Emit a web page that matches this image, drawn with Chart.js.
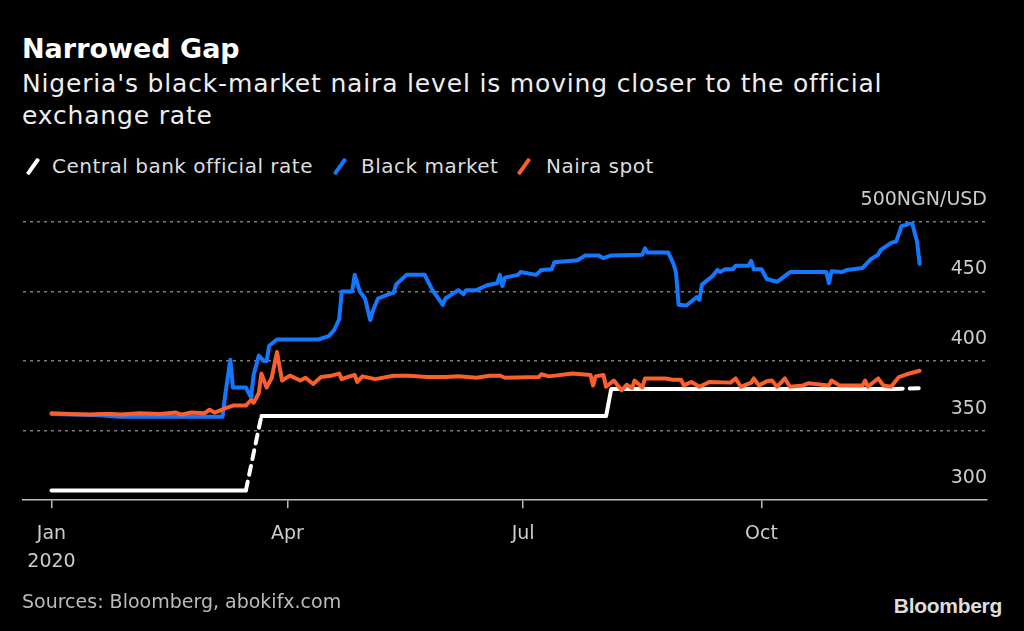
<!DOCTYPE html>
<html>
<head>
<meta charset="utf-8">
<script src="https://cdn.jsdelivr.net/npm/chart.js@4/dist/chart.umd.min.js"></script>
<style>
  html, body { margin: 0; padding: 0; background: #000; }
  body { width: 1024px; height: 631px; position: relative; overflow: hidden; font-family: "DejaVu Sans", sans-serif; }
  .txt { position: absolute; white-space: nowrap; }
  #title { left: 22px; top: 33px; font-size: 27px; line-height: 32px; font-weight: bold; color: #fff; }
  #subtitle { left: 22px; top: 68px; font-size: 25px; line-height: 32px; letter-spacing: 0.83px; color: #eee; }
  .leg { top: 154px; font-size: 20px; line-height: 24px; letter-spacing: 0.5px; color: #ddd; }
  .slash { position: absolute; top: 157px; width: 4px; height: 19px; transform: rotate(35deg); border-radius: 1px; }
  #source { left: 22px; top: 589px; font-size: 19px; line-height: 24px; color: #bbb; }
  #logo { right: 22px; top: 594px; font-family: "Liberation Sans", sans-serif; font-size: 21px; line-height: 24px; font-weight: bold; color: #ddd; letter-spacing: -0.3px; }
  #wrap { position: absolute; left: 0; top: 180px; width: 1024px; height: 414px; }
</style>
</head>
<body>
<div class="txt" id="title">Narrowed Gap</div>
<div class="txt" id="subtitle">Nigeria's black-market naira level is moving closer to the official<br>exchange rate</div>

<span class="slash" style="left:31px;background:#fff"></span>
<div class="txt leg" style="left:52px">Central bank official rate</div>
<span class="slash" style="left:338px;background:#1478ff"></span>
<div class="txt leg" style="left:361px">Black market</div>
<span class="slash" style="left:522px;background:#fa5f2c"></span>
<div class="txt leg" style="left:546px">Naira spot</div>

<div id="wrap"><canvas id="grafica"></canvas></div>

<div class="txt" id="source">Sources: Bloomberg, abokifx.com</div>
<div class="txt" id="logo">Bloomberg</div>

<script>
// days counted from Jan 1, 2020
const officialDays = [0, 75, 78, 81, 214, 216, 325, 330, 336];
const officialRates = [307, 307, null, 360.5, 360.5, 380, 380, null, 380.5];

const blackDays = [0, 19, 26, 38, 57, 66, 67, 69, 70, 75, 77, 78, 80, 82, 83, 84, 87, 103, 107, 109,
  111, 112, 116, 117, 119, 121, 123, 124, 126, 130, 132, 133, 137, 144, 147, 151, 152, 157, 159, 160,
  164, 168, 172, 173, 174, 175, 180, 181, 187, 189, 193, 194, 203, 206, 211, 213, 216, 228, 229, 230,
  238, 240, 241, 242, 245, 247, 249, 250, 251, 255, 257, 258, 260, 263, 264, 269, 270, 271, 274, 276,
  280, 285, 299, 300, 301, 305, 307, 313, 316, 319, 320, 324, 326, 328, 330, 332, 334, 335];
const blackRates = [362, 361, 360, 360, 360, 360, 375, 401, 381, 381, 374, 390, 404, 400, 400, 411, 415.5, 415.5, 418, 422,
  430, 450, 450, 462, 450, 445, 429.5, 436, 445, 448, 449, 455, 462, 462, 451, 440.5, 445, 451, 448, 451,
  451, 454.5, 456, 462, 454, 460, 462, 464, 462, 465.5, 466, 471, 472.5, 476, 476, 474, 476, 476.5, 481, 478,
  478, 470, 463.5, 440.5, 440, 443, 446, 444, 455, 461, 465.5, 464, 466, 466, 468.5, 468.5, 472, 466, 466, 459,
  457, 464, 464, 456, 464.5, 464, 465.5, 467, 473, 476.5, 480, 485, 486, 497, 498, 500, 486, 470];

const spotDays = [0, 7, 15, 19, 23, 27, 34, 42, 48, 50, 54, 59, 61, 63, 67, 70, 75, 77, 78, 80,
  81, 83, 85, 87, 89, 92, 96, 98, 101, 104, 108, 111, 112, 115, 117, 118, 120, 125, 132, 138,
  145, 152, 157, 164, 169, 173, 175, 188, 189, 192, 201, 208, 209, 210, 213, 214, 217, 220, 222, 224,
  225, 228, 229, 237, 240, 243, 244, 247, 250, 254, 262, 264, 266, 270, 271, 273, 276, 278, 280, 283,
  285, 290, 292, 300, 301, 304, 313, 314, 315, 319, 321, 324, 327, 330, 335];
const spotRates = [362.5, 362, 361.5, 362, 362, 361.5, 362.5, 362, 363, 361.5, 363, 362.5, 365, 363, 366, 368, 368, 372, 370, 377,
  391, 381, 388, 406.5, 386, 389.5, 386, 388, 383.5, 388.5, 389.5, 391, 387, 389, 390, 385, 389, 387, 389.5, 389.5,
  388.5, 388.5, 389, 388, 389.5, 389.5, 388, 388.5, 390.5, 389, 391, 390, 382.5, 389, 390, 381.5, 386, 379, 383, 380.5,
  386, 381, 387.5, 387.5, 386.5, 386.5, 382.5, 385, 381.5, 385, 384.5, 387.5, 381.5, 384.5, 387.5, 382.5, 385.5, 386, 381.5, 387.5,
  381.5, 382.5, 384, 382.5, 386, 382.5, 382.5, 386, 381.5, 387.5, 382.5, 381.5, 388.5, 390.5, 393];

const tickDays = [0, 91, 182, 274];
const tickLabels = [["Jan", "2020"], "Apr", "Jul", "Oct"];
const yTicks = [300, 350, 400, 450, 500];

const puntos = (dias, valores) => dias.map((d, i) => ({ x: d, y: valores[i] }));
const hueco = (ctx, valor) => ctx.p0.skip || ctx.p1.skip ? valor : undefined;

const $grafica = document.querySelector("#grafica");

new Chart($grafica, {
  type: 'line',
  data: {
    datasets: [
      {
        label: "Central bank official rate",
        data: puntos(officialDays, officialRates),
        borderColor: '#ffffff',
        borderWidth: 4,
        spanGaps: true,
        segment: { borderDash: ctx => hueco(ctx, [9, 7]) },
        order: 2,
      },
      {
        label: "Black market",
        data: puntos(blackDays, blackRates),
        borderColor: '#1478ff',
        borderWidth: 4,
        order: 1,
      },
      {
        label: "Naira spot",
        data: puntos(spotDays, spotRates),
        borderColor: '#fa5f2c',
        borderWidth: 4,
        order: 0,
      },
    ]
  },
  options: {
    responsive: true,
    maintainAspectRatio: false,
    animation: false,
    layout: { padding: { top: 42, left: 23, right: 37, bottom: 6 } },
    elements: {
      point: { radius: 0 },
      line: { tension: 0, borderJoinStyle: 'round', borderCapStyle: 'round' },
    },
    plugins: { legend: { display: false }, tooltip: { enabled: false } },
    scales: {
      x: {
        type: 'linear',
        min: -11,
        max: 361,
        afterBuildTicks: axis => { axis.ticks = tickDays.map(v => ({ value: v })); },
        ticks: {
          autoSkip: false,
          maxRotation: 0,
          padding: 12,
          color: '#ccc',
          font: { family: 'DejaVu Sans', size: 19, lineHeight: 1.47 },
          callback: v => tickLabels[tickDays.indexOf(v)],
        },
        grid: { drawOnChartArea: false, drawTicks: true, tickLength: 8, color: '#bbb', lineWidth: 1.5 },
        border: { display: true, color: '#bbb', width: 1.5 },
      },
      y: {
        position: 'right',
        min: 300,
        max: 500,
        afterBuildTicks: axis => { axis.ticks = yTicks.map(v => ({ value: v })); },
        ticks: {
          mirror: true,
          padding: 0,
          labelOffset: -22,
          color: '#ccc',
          font: { family: 'DejaVu Sans', size: 19 },
          callback: v => v === 500 ? '500NGN/USD' : String(v),
        },
        grid: {
          drawTicks: false,
          color: ctx => ctx.tick && ctx.tick.value === 300 ? 'rgba(0,0,0,0)' : '#7a7a7a',
          lineWidth: 1.5,
        },
        border: { display: false, dash: [3, 4] },
      },
    },
  },
});
</script>
</body>
</html>
